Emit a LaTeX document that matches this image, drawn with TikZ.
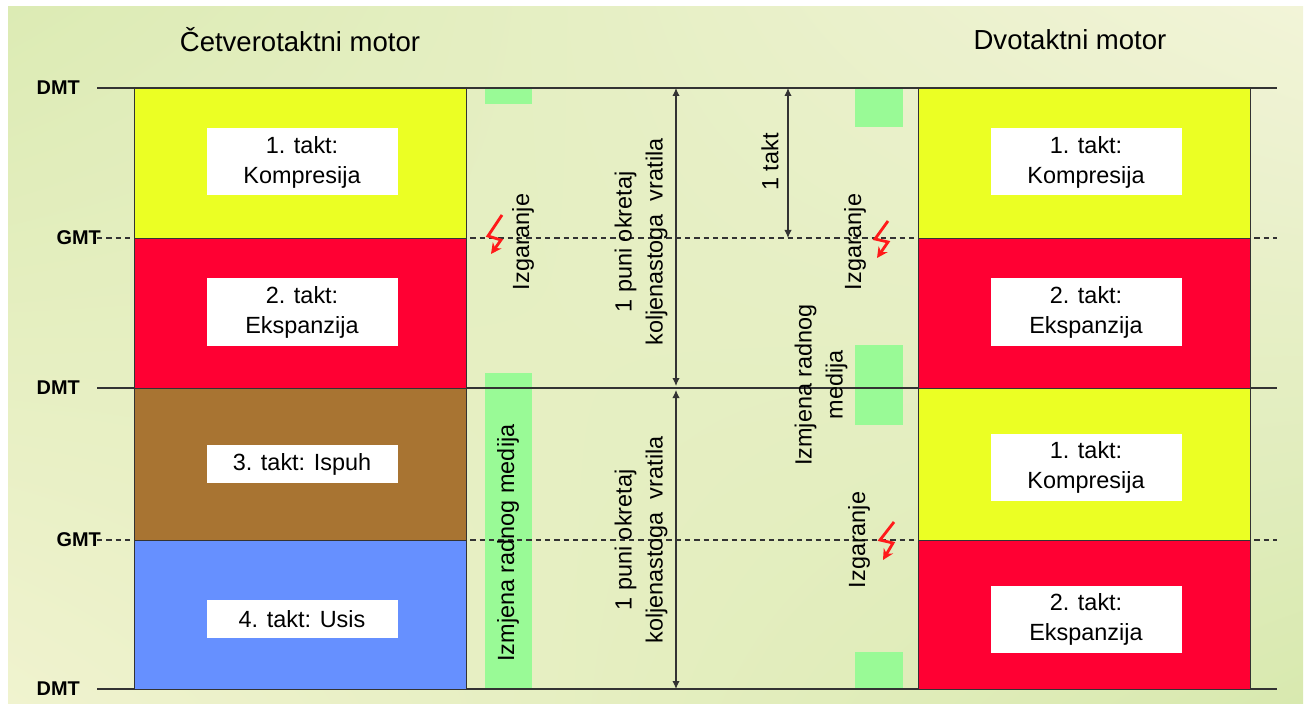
\documentclass[tikz,border=0pt]{standalone}
\usepackage{fontspec}
\setmainfont{Liberation Sans}
\usepackage{tikz}
\usetikzlibrary{arrows.meta, shadings}
\definecolor{zuta}{HTML}{EBFF24}
\definecolor{crvena}{HTML}{FF0033}
\definecolor{smeda}{HTML}{A87432}
\definecolor{plava}{HTML}{6690FF}
\definecolor{medij}{HTML}{99FA96}
\definecolor{crta}{HTML}{333333}
\definecolor{iskra}{HTML}{FF1A1A}
\definecolor{pozul}{HTML}{DCEBB4}
\definecolor{pozur}{HTML}{F2F4D8}
\definecolor{pozll}{HTML}{F0F3CF}
\definecolor{pozlr}{HTML}{D8E9AF}

\begin{document}
\begin{tikzpicture}[x=0.3mm, y=-0.3mm]
    \tikzstyle{takt} = [draw=crta, line width=0.8pt]
    \tikzstyle{oznaka} = [rectangle, fill=white, inner sep=0pt, minimum width=57.3mm, align=center,
        font=\fontsize{20}{25.6}\selectfont]
    \tikzstyle{mrtva} = [font=\fontsize{17}{20}\selectfont\bfseries, inner sep=0pt, anchor=east]
    \tikzstyle{okomito} = [rotate=90, align=center, inner sep=0pt, font=\fontsize{20}{26.5}\selectfont]
    \tikzstyle{naslov} = [font=\fontsize{23.5}{28}\selectfont]
    \tikzstyle{munja} = [draw=iskra, line width=2.4pt, line join=miter, -{Stealth[length=3.2mm, width=3.2mm]}]
    \tikzstyle{mjera} = [draw=crta, line width=0.9pt, {Latex[length=2.4mm, width=2.2mm]}-{Latex[length=2.4mm, width=2.2mm]}]
    \useasboundingbox (0,0) rectangle (1306,704);
    \shade[upper left=pozul, upper right=pozur, lower left=pozll, lower right=pozlr] (8,7) rectangle (1303,704);
    % izmjena radnog medija
    \fill[medij] (485,88) rectangle (532,104);
    \fill[medij] (485,373) rectangle (532,689);
    \fill[medij] (855,88) rectangle (903,127);
    \fill[medij] (855,345) rectangle (903,425);
    \fill[medij] (855,652) rectangle (903,689);
    % GMT i DMT
    \foreach \y in {238,540} \draw[crta, line width=1pt, dash pattern=on 1.6mm off 1.2mm] (97,\y) -- (1277,\y);
    \foreach \y in {88,388,689} \draw[crta, line width=1.3pt] (97,\y) -- (1277,\y);
    \foreach \ya/\yb/\boja in {88/238/zuta, 238/388/crvena, 388/540/smeda, 540/689/plava}
        \filldraw[takt, fill=\boja] (134,\ya) rectangle (466,\yb);
    \foreach \ya/\yb/\boja in {88/238/zuta, 238/388/crvena, 388/540/zuta, 540/689/crvena}
        \filldraw[takt, fill=\boja] (918,\ya) rectangle (1250,\yb);
    \node[mrtva] (dmt1) at (80,88) {DMT};
    \node[mrtva] (gmt1) at (101,238) {GMT};
    \node[mrtva] (dmt2) at (80,388) {DMT};
    \node[mrtva] (gmt2) at (101,540) {GMT};
    \node[mrtva] (dmt3) at (80,689) {DMT};
    \node[naslov] (cetvero) at (300,40) {Četverotaktni motor};
    \node[naslov] (dvo) at (1070,40) {Dvotaktni motor};
    % taktovi
    \node[oznaka, minimum height=20.1mm] (c1) at (302,162) {1. takt:\\Kompresija};
    \node[oznaka, minimum height=20.1mm] (c2) at (302,312) {2. takt:\\Ekspanzija};
    \node[oznaka, minimum height=11.4mm] (c3) at (302,464) {3. takt: Ispuh};
    \node[oznaka, minimum height=11.4mm] (c4) at (302,619) {4. takt: Usis};
    \node[oznaka, minimum height=20.1mm] (d1) at (1086,162) {1. takt:\\Kompresija};
    \node[oznaka, minimum height=20.1mm] (d2) at (1086,312) {2. takt:\\Ekspanzija};
    \node[oznaka, minimum height=20.1mm] (d3) at (1086,467) {1. takt:\\Kompresija};
    \node[oznaka, minimum height=20.1mm] (d4) at (1086,619) {2. takt:\\Ekspanzija};
    % okretaji
    \coordinate (o1) at (676,88);
    \coordinate (o2) at (676,386);
    \coordinate (o3) at (676,390);
    \coordinate (o4) at (676,689);
    \coordinate (t1) at (788,88);
    \coordinate (t2) at (788,238);
    \draw[mjera] (o1) -- (o2);
    \draw[mjera] (o3) -- (o4);
    \draw[mjera] (t1) -- (t2);
    \node[okomito] (okr1) at (641,242) {1 puni okretaj\\koljenastoga\ \ vratila};
    \node[okomito] (okr2) at (641,540) {1 puni okretaj\\koljenastoga\ \ vratila};
    \node[okomito] (jedan) at (770,162) {1 takt};
    \node[okomito] (izm1) at (508,543) {Izmjena radnog medija};
    \node[okomito] (izm2) at (821,385) {Izmjena radnog\\medija};
    \node[okomito] (izg1) at (523,242) {Izgaranje};
    \node[okomito] (izg2) at (855,242) {Izgaranje};
    \node[okomito] (izg3) at (859,540) {Izgaranje};
    % paljenje
    \draw[munja] (502,215) -- (488,236) -- (501,240) -- (491,254);
    \draw[munja] (888,221) -- (875,239) -- (888,242) -- (877,258);
    \draw[munja] (894,522) -- (880,540) -- (893,543) -- (883,560);
\end{tikzpicture}
\end{document}
